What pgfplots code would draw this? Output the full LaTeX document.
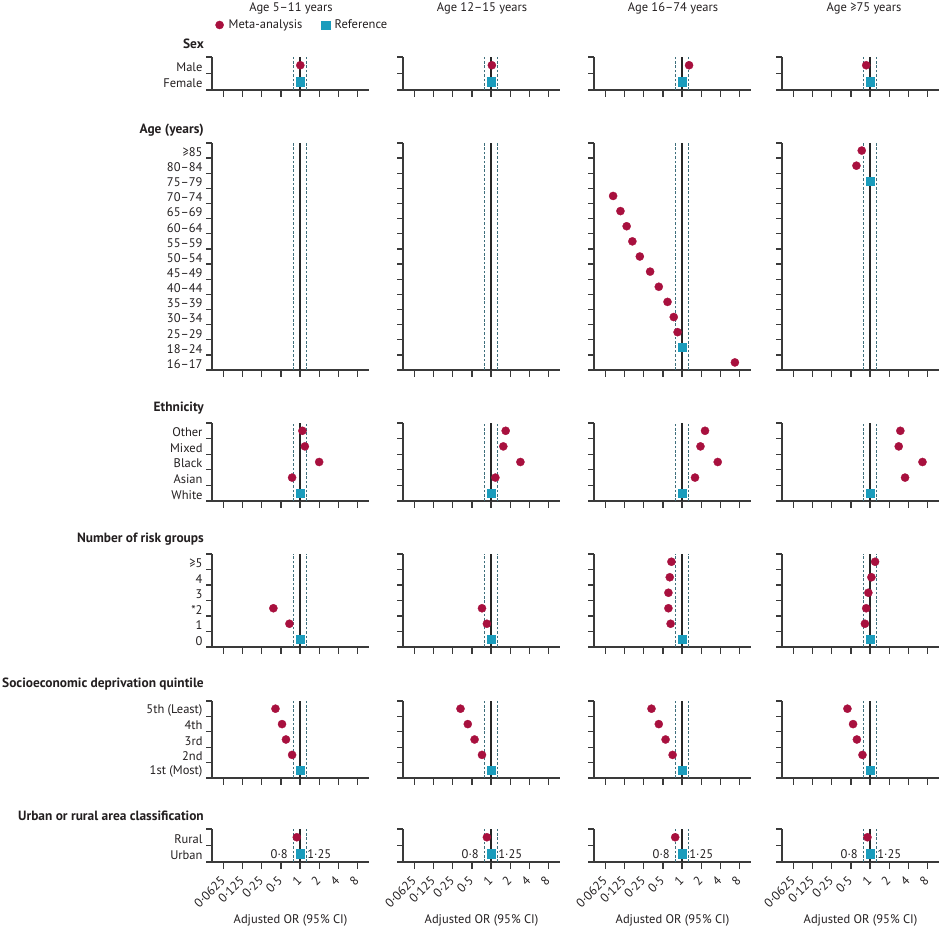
\documentclass[border=0pt]{standalone}
\usepackage{fontspec}
\setmainfont{PT Sans}
\usepackage{pgfplots}
\pgfplotsset{compat=1.18}

\definecolor{crim}{HTML}{A8103E}
\definecolor{tealc}{HTML}{1A9CBC}
\definecolor{dashc}{HTML}{3E6F7C}
\definecolor{axc}{HTML}{3A3A3A}
\definecolor{txt}{HTML}{231F20}
\newcommand\fsz{\fontsize{12.5bp}{14bp}\selectfont}
\newcommand\bfs{\fontsize{13.4bp}{15bp}\selectfont\bfseries}

\pgfplotsset{
  rsex/.style={height=33bp, ymin=0.5, ymax=2.5, ytick={1,2}, minor ytick={1.5,2.5}},
  rage/.style={height=227bp, ymin=0.5, ymax=15.5, ytick={1,...,15}, minor ytick={1.5,2.5,...,15.5}},
  reth/.style={height=78bp, ymin=0.5, ymax=5.5, ytick={1,...,5}, minor ytick={1.5,2.5,...,5.5}},
  rrisk/.style={height=93bp, ymin=0.5, ymax=6.5, ytick={1,...,6}, minor ytick={1.5,2.5,...,6.5}},
  rses/.style={height=77bp, ymin=0.5, ymax=5.5, ytick={1,...,5}, minor ytick={1.5,2.5,...,5.5}},
  rurb/.style={height=33bp, ymin=0.5, ymax=2.5, ytick={1,2}, minor ytick={1.5,2.5}},
  bottomrow/.style={xticklabels={0·0625,0·125,0·25,0·5,1,2,4,8},
    xticklabel shift=9bp,
    xticklabel style={font=\fsz, rotate=45, anchor=east, inner sep=1bp},
    xlabel={Adjusted OR (95\% CI)},
    xlabel style={at={(axis description cs:0.5,0)}, anchor=center, yshift=-58bp, font=\fsz, text=txt}},
  mpt/.style={only marks, color=crim, mark=*, mark size=4.1bp, mark options={fill=crim, draw=crim, line width=0.3bp}},
  rpt/.style={only marks, color=tealc, mark=square*, mark size=4.1bp, mark options={fill=tealc, draw=tealc, line width=0.3bp}},
}

% one panel: x, y of the lower left corner, row style, extra options, plots
\newcommand\pn[5]{%
\begin{axis}[scale only axis, width=157bp, anchor=south west, clip=false,
    xmode=log, log basis x=2, xmin=0.041, xmax=12.2,
    axis x line=bottom, axis y line=left,
    axis line style={-, line width=1.3bp, color=axc},
    x axis line style={shorten <=-6bp},
    xtick={0.0625,0.125,0.25,0.5,1,2,4,8}, xticklabels={},
    tick align=outside, major tick length=7bp, minor tick length=6bp,
    major y tick style={draw=none},
    minor y tick style={line width=1.3bp, color=axc},
    major x tick style={line width=1.3bp, color=axc},
    yticklabels={}, tick label style={font=\fsz, text=txt},
    yticklabel style={yshift=-1.5bp, xshift=1bp},
    #3, at={(#1bp,#2bp)}, #4]
\draw[dashc, line width=0.9bp, dash pattern=on 2.6bp off 1.8bp]
  ({axis cs:0.8,1}|-{rel axis cs:0,0}) -- ({axis cs:0.8,1}|-{rel axis cs:0,1});
\draw[dashc, line width=0.9bp, dash pattern=on 2.6bp off 1.8bp]
  ({axis cs:1.25,1}|-{rel axis cs:0,0}) -- ({axis cs:1.25,1}|-{rel axis cs:0,1});
\draw[black!85, line width=1.2bp]
  ({axis cs:1,1}|-{rel axis cs:0,0}) -- ({axis cs:1,1}|-{rel axis cs:0,1});
#5
\end{axis}}

\newcommand\urbnotes{%
\node[font=\fsz, text=txt, anchor=east, inner sep=1bp, xshift=-5bp] at (axis cs:0.8,1) {0·8};
\node[font=\fsz, text=txt, anchor=west, inner sep=1bp] at (axis cs:1.25,1) {1·25};}

\begin{document}
\begin{tikzpicture}
\useasboundingbox (0,0) rectangle (939bp,928bp);

% column titles
\node[font=\fsz, text=txt] at (291bp,920bp) {Age 5–11 years};
\node[font=\fsz, text=txt] at (482bp,920bp) {Age 12–15 years};
\node[font=\fsz, text=txt] at (673bp,920bp) {Age 16–74 years};
\node[font=\fsz, text=txt] at (864bp,920bp) {Age ≥75 years};

% section headers
\node[font=\bfs, text=txt, anchor=east, inner sep=0] at (204bp,884bp) {Sex};
\node[font=\bfs, text=txt, anchor=east, inner sep=0] at (204bp,798bp) {Age (years)};
\node[font=\bfs, text=txt, anchor=east, inner sep=0] at (204bp,520bp) {Ethnicity};
\node[font=\bfs, text=txt, anchor=east, inner sep=0] at (204bp,389bp) {Number of risk groups};
\node[font=\bfs, text=txt, anchor=east, inner sep=0] at (204bp,244bp) {Socioeconomic deprivation quintile};
\node[font=\bfs, text=txt, anchor=east, inner sep=0] at (204bp,112bp) {Urban or rural area classification};

% Sex
\pn{212}{838}{rsex}{yticklabels={Female,Male},
  legend columns=2,
  legend style={draw=none, fill=none, font=\fsz, text=txt,
    at={(axis description cs:0.585,1.97)}, anchor=center,
    nodes={inner xsep=5bp},
    /tikz/every even column/.append style={column sep=14bp}}}
  {\addplot[mpt] coordinates {(1.01,2)};
   \addplot[rpt] coordinates {(1,1)};
   \legend{Meta-analysis,Reference}}
\pn{403}{838}{rsex}{}{\addplot[mpt] coordinates {(1.03,2)}; \addplot[rpt] coordinates {(1,1)};}
\pn{594}{838}{rsex}{}{\addplot[mpt] coordinates {(1.29,2)}; \addplot[rpt] coordinates {(1,1)};}
\pn{782}{838}{rsex}{}{\addplot[mpt] coordinates {(0.87,2)}; \addplot[rpt] coordinates {(1,1)};}

% Age
\pn{212}{558}{rage}{yticklabels={16–17,18–24,25–29,30–34,35–39,40–44,45–49,50–54,55–59,60–64,65–69,70–74,75–79,80–84,≥85}}{}
\pn{403}{558}{rage}{}{}
\pn{594}{558}{rage}{}{
  \addplot[mpt] coordinates {(6.8,1) (0.85,3) (0.74,4) (0.59,5) (0.43,6) (0.314,7)
    (0.216,8) (0.165,9) (0.134,10) (0.107,11) (0.082,12)};
  \addplot[rpt] coordinates {(1,2)};}
\pn{782}{558}{rage}{}{
  \addplot[mpt] coordinates {(0.61,14) (0.74,15)};
  \addplot[rpt] coordinates {(1,13)};}

% Ethnicity
\pn{212}{427}{reth}{yticklabels={White,Asian,Black,Mixed,Other}}{
  \addplot[mpt] coordinates {(0.75,2) (2.0,3) (1.19,4) (1.09,5)};
  \addplot[rpt] coordinates {(1,1)};}
\pn{403}{427}{reth}{}{
  \addplot[mpt] coordinates {(1.17,2) (2.9,3) (1.56,4) (1.70,5)};
  \addplot[rpt] coordinates {(1,1)};}
\pn{594}{427}{reth}{}{
  \addplot[mpt] coordinates {(1.6,2) (3.65,3) (1.95,4) (2.3,5)};
  \addplot[rpt] coordinates {(1,1)};}
\pn{782}{427}{reth}{}{
  \addplot[mpt] coordinates {(3.56,2) (6.7,3) (2.83,4) (3.0,5)};
  \addplot[rpt] coordinates {(1,1)};}

% Number of risk groups
\pn{212}{281}{rrisk}{yticklabels={0,1,*2,3,4,≥5}}{
  \addplot[mpt] coordinates {(0.68,2) (0.38,3)};
  \addplot[rpt] coordinates {(1,1)};}
\pn{403}{281}{rrisk}{}{
  \addplot[mpt] coordinates {(0.86,2) (0.72,3)};
  \addplot[rpt] coordinates {(1,1)};}
\pn{594}{281}{rrisk}{}{
  \addplot[mpt] coordinates {(0.66,2) (0.61,3) (0.61,4) (0.64,5) (0.68,6)};
  \addplot[rpt] coordinates {(1,1)};}
\pn{782}{281}{rrisk}{}{
  \addplot[mpt] coordinates {(0.83,2) (0.87,3) (0.94,4) (1.05,5) (1.2,6)};
  \addplot[rpt] coordinates {(1,1)};}

% Socioeconomic deprivation quintile
\pn{212}{150}{rses}{yticklabels={1st (Most),2nd,3rd,4th,5th (Least)}}{
  \addplot[mpt] coordinates {(0.75,2) (0.60,3) (0.52,4) (0.41,5)};
  \addplot[rpt] coordinates {(1,1)};}
\pn{403}{150}{rses}{}{
  \addplot[mpt] coordinates {(0.72,2) (0.55,3) (0.43,4) (0.33,5)};
  \addplot[rpt] coordinates {(1,1)};}
\pn{594}{150}{rses}{}{
  \addplot[mpt] coordinates {(0.71,2) (0.55,3) (0.43,4) (0.33,5)};
  \addplot[rpt] coordinates {(1,1)};}
\pn{782}{150}{rses}{}{
  \addplot[mpt] coordinates {(0.76,2) (0.62,3) (0.54,4) (0.44,5)};
  \addplot[rpt] coordinates {(1,1)};}

% Urban or rural
\pn{212}{66}{rurb}{bottomrow, yticklabels={Urban,Rural}}{
  \addplot[mpt] coordinates {(0.89,2)};
  \addplot[rpt] coordinates {(1,1)};
  \urbnotes}
\pn{403}{66}{rurb}{bottomrow}{
  \addplot[mpt] coordinates {(0.86,2)};
  \addplot[rpt] coordinates {(1,1)};
  \urbnotes}
\pn{594}{66}{rurb}{bottomrow}{
  \addplot[mpt] coordinates {(0.78,2)};
  \addplot[rpt] coordinates {(1,1)};
  \urbnotes}
\pn{782}{66}{rurb}{bottomrow}{
  \addplot[mpt] coordinates {(0.91,2)};
  \addplot[rpt] coordinates {(1,1)};
  \urbnotes}
\end{tikzpicture}
\end{document}
